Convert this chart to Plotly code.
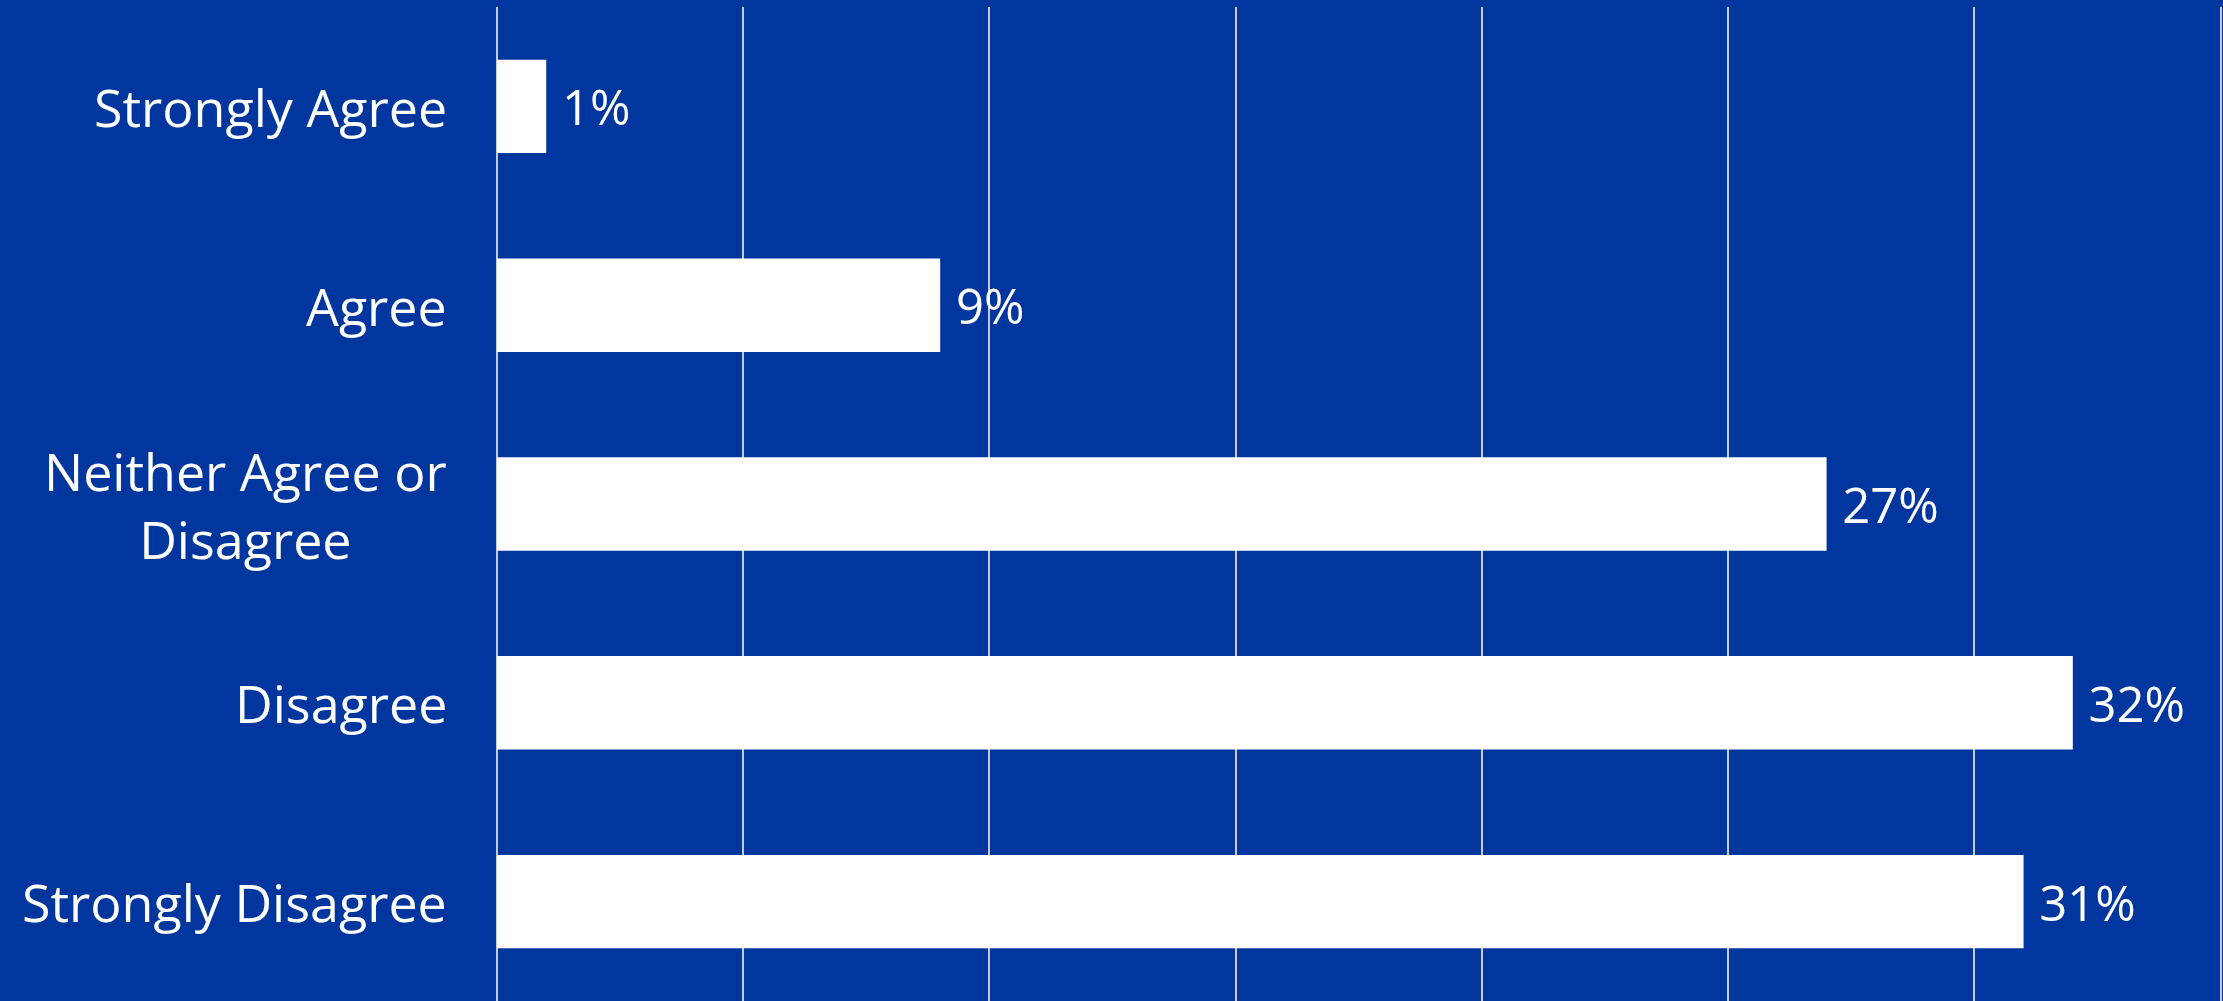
import plotly.graph_objects as go

# survey responses, top to bottom
categories = ["Strongly Agree", "Agree", "Neither Agree or<br>Disagree", "Disagree", "Strongly Disagree"]
percent = [1, 9, 27, 32, 31]

bg = "#00369E"
grid = "#C5CAD8"
font_family = "Open Sans"

fig = go.Figure(
    go.Bar(
        x=percent,
        y=categories,
        orientation="h",
        marker=dict(color="white", line=dict(width=0)),
        text=["\u00a0" + str(v) + "%" for v in percent],
        textposition="outside",
        textfont=dict(color="white", size=49, family=font_family),
        cliponaxis=False,
    )
)

# category labels: centred multi-line text, right-aligned against the axis
for cat in categories:
    fig.add_annotation(
        x=0, xref="paper", y=cat, yref="y",
        text=cat, showarrow=False,
        xanchor="right", yanchor="middle", align="center",
        xshift=-48,
        font=dict(color="white", size=52, family=font_family),
    )

fig.update_layout(
    width=2223,
    height=1001,
    margin=dict(l=497, r=0, t=7, b=0),
    paper_bgcolor=bg,
    plot_bgcolor=bg,
    bargap=0.53,
    showlegend=False,
    font=dict(family=font_family, color="white"),
)
fig.update_xaxes(
    range=[0, 35.05],
    tickvals=[0, 5, 10, 15, 20, 25, 30, 35],
    showgrid=True,
    gridcolor=grid,
    gridwidth=1.5,
    zeroline=True,
    zerolinecolor=grid,
    zerolinewidth=1.5,
    showticklabels=False,
    fixedrange=True,
)
fig.update_yaxes(
    categoryorder="array",
    categoryarray=categories[::-1],
    range=[-0.5, 4.5],
    showticklabels=False,
    showgrid=False,
    zeroline=False,
)

fig.write_html(
    "out.html",
    config={"displayModeBar": False},
    post_script="document.body.style.margin='0';document.body.style.overflow='hidden';",
)
